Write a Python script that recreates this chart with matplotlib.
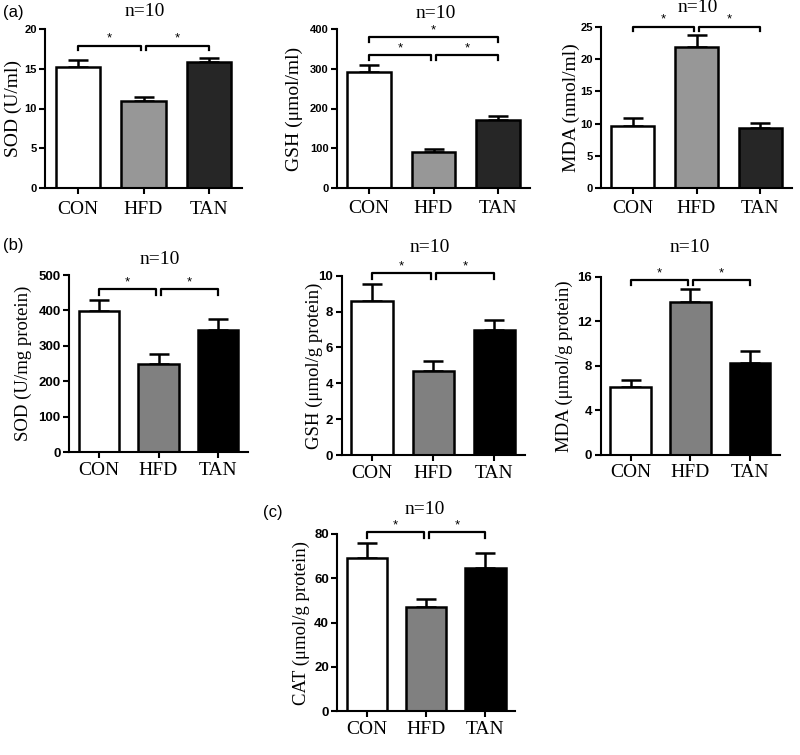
import matplotlib
matplotlib.use('Agg')
import matplotlib.pyplot as plt

groups = ['CON', 'HFD', 'TAN']

a_sod = [15.2, 10.9, 15.8]
a_sod_err = [0.9, 0.5, 0.6]
a_gsh = [293, 90, 170]
a_gsh_err = [16, 7, 11]
a_mda = [9.6, 22.0, 9.35]
a_mda_err = [1.2, 1.8, 0.7]

b_sod = [398, 249, 345]
b_sod_err = [31, 27, 30]
b_gsh = [8.6, 4.7, 6.97]
b_gsh_err = [0.94, 0.56, 0.56]
b_mda = [6.1, 13.7, 8.27]
b_mda_err = [0.6, 1.17, 1.05]

c_cat = [69.3, 47.2, 64.8]
c_cat_err = [6.7, 3.4, 6.5]

SERIF = ['Liberation Serif', 'DejaVu Serif']
SANS = ['Liberation Sans', 'DejaVu Sans']

W, H = 800, 755
fig = plt.figure(figsize=(8, 7.55), dpi=100)


def px_rect(left, right, top, bottom):
    return [left / W, 1 - bottom / H, (right - left) / W, (bottom - top) / H]


def panel(rect, vals, errs, ylim, yticks, ylabel, colors, label_x, brackets,
          tick_fs, label_fs, title_xy, xpad, title_fs=14):
    ax = fig.add_axes(px_rect(*rect))
    x = list(range(len(groups)))
    ax.errorbar(x, vals, yerr=[[0] * len(vals), errs], fmt='none', ecolor='black',
                elinewidth=1.8, capsize=7, capthick=1.8, zorder=1)
    ax.bar(x, vals, width=0.68, color=colors, edgecolor='black', linewidth=1.8, zorder=2)
    ax.set_xlim(-0.5, 2.5)
    ax.set_ylim(*ylim)
    ax.set_yticks(yticks)
    ax.set_xticks(x)
    ax.set_xticklabels(groups, fontsize=14, family=SERIF)
    for lab in ax.get_yticklabels():
        lab.set_family(SANS)
        lab.set_fontweight('bold')
        lab.set_fontsize(tick_fs)
    for s in ['top', 'right']:
        ax.spines[s].set_visible(False)
    for s in ['left', 'bottom']:
        ax.spines[s].set_linewidth(1.5)
    ax.tick_params(axis='both', direction='out', length=4, width=1.5, pad=2)
    ax.tick_params(axis='x', pad=xpad)
    ax.set_ylabel(ylabel, fontsize=label_fs, family=SERIF)
    ax.yaxis.set_label_coords(label_x, 0.5)
    ymax = ylim[1]
    h = 0.03 * ymax
    for (x1, x2, y) in brackets:
        ax.plot([x1, x1, x2, x2], [y - h, y, y, y - h], color='black', lw=1.6,
                clip_on=False, zorder=3)
        ax.text((x1 + x2) / 2, y + 0.005 * ymax, '*', ha='center', va='bottom',
                fontsize=9.5, family=SANS)
    fig.text(title_xy[0] / W, 1 - title_xy[1] / H, 'n=10', ha='center', va='center',
             fontsize=title_fs, family=SERIF)
    return ax


cols_a = ['white', '#979797', '#262626']
cols_b = ['white', '#808080', '#000000']

g = 0.04
two = lambda y: [(0, 1 - g, y), (1 + g, 2, y)]

panel((45, 242, 29, 188), a_sod, a_sod_err, (0, 20), [0, 5, 10, 15, 20], 'SOD (U/ml)',
      cols_a, -0.115, two(17.9), 8, 14, (145, 12), 5)
panel((337, 530, 29.3, 187.7), a_gsh, a_gsh_err, (0, 400), [0, 100, 200, 300, 400],
      'GSH (μmol/ml)', cols_a, -0.175, two(335) + [(0, 2, 381)], 8, 14, (436, 13), 5)
panel((601, 792, 27.3, 187.7), a_mda, a_mda_err, (0, 25), [0, 5, 10, 15, 20, 25],
      'MDA (nmol/ml)', cols_a, -0.11, two(25.1), 8, 14, (698, 8), 5)

panel((69, 248, 275, 452.3), b_sod, b_sod_err, (0, 500), [0, 100, 200, 300, 400, 500],
      'SOD (U/mg protein)', cols_b, -0.208, two(460), 9.5, 13.5, (160, 260), 3)
panel((341.7, 525, 275.7, 455), b_gsh, b_gsh_err, (0, 10), [0, 2, 4, 6, 8, 10],
      'GSH (μmol/g protein)', cols_b, -0.10, two(10.13), 9.5, 13.5, (430, 248), 3)
panel((600.7, 780, 276.7, 454.7), b_mda, b_mda_err, (0, 16), [0, 4, 8, 12, 16],
      'MDA (μmol/g protein)', cols_b, -0.153, two(15.7), 9.5, 13.5, (690, 248), 3)

panel((337.3, 515, 534, 711.3), c_cat, c_cat_err, (0, 80), [0, 20, 40, 60, 80],
      'CAT (μmol/g protein)', cols_b, -0.153, two(80.7), 9.5, 13.5, (425, 510), 3)

fig.text(3 / W, 1 - 12 / H, '(a)', fontsize=12, family=SANS, va='center', ha='left')
fig.text(3 / W, 1 - 246 / H, '(b)', fontsize=12, family=SANS, va='center', ha='left')
fig.text(263 / W, 1 - 512 / H, '(c)', fontsize=12, family=SANS, va='center', ha='left')

fig.savefig('out.png', dpi=100)
